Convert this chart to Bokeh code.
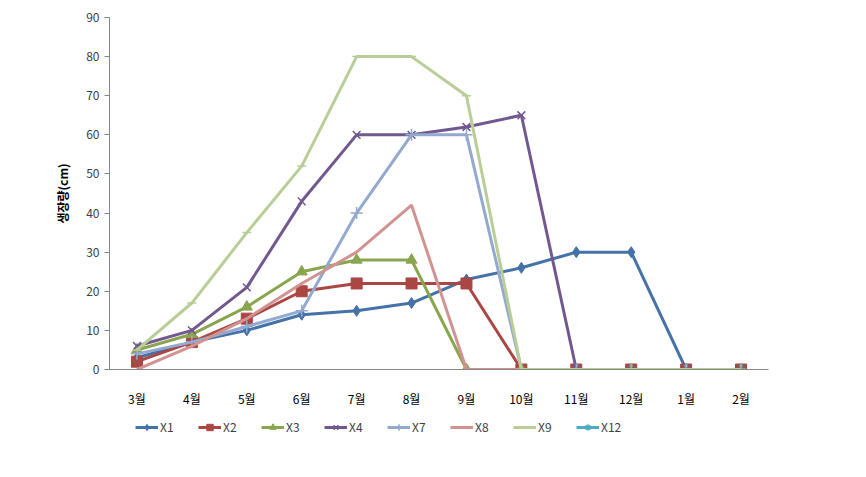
import numpy as np
from bokeh.plotting import figure
from bokeh.layouts import column
from bokeh.models import FactorRange, Range1d, Legend, LegendItem, ColumnDataSource
from bokeh.embed import file_html
from bokeh.resources import INLINE

months = ["3월", "4월", "5월", "6월", "7월", "8월", "9월", "10월", "11월", "12월", "1월", "2월"]
nan = float("nan")
x1 = [3, 7, 10, 14, 15, 17, 23, 26, 30, 30, 0, 0]
x2 = [2, 7, 13, 20, 22, 22, 22, 0, 0, 0, 0, 0]
x3 = [5, 9, 16, 25, 28, 28, 0, 0, 0, 0, 0, 0]
x4 = [6, 10, 21, 43, 60, 60, 62, 65, 0, 0, 0, 0]
x7 = [4, 7, 11, 15, 40, 60, 60, 0, 0, 0, 0, 0]
x8 = [0, 6, 13, 22, 30, 42, 0, 0, 0, 0, 0, 0]
x9 = [5, 17, 35, 52, 80, 80, 70, 0, 0, 0, 0, 0]
x12 = [nan] * 12
series_names = ["X1", "X2", "X3", "X4", "X7", "X8", "X9", "X12"]
series_values = [x1, x2, x3, x4, x7, x8, x9, x12]
y_ticks = [0, 10, 20, 30, 40, 50, 60, 70, 80, 90]

colors = ["#4572A7", "#AA4643", "#89A54E", "#71588F", "#93A9CF", "#D19392", "#B9CD96", "#4BACC6"]
markers = ["diamond", "square", "triangle", "x", "cross", None, "dash", "asterisk"]
msizes = [11, 11, 11, 11, 12, 0, 9, 11]

FONT = "Noto Sans CJK KR"

p = figure(width=866, height=410, output_backend="svg", toolbar_location=None,
           x_range=FactorRange(*months, range_padding=0), y_range=Range1d(0, 90),
           min_border_left=109, min_border_right=98, min_border_top=17, min_border_bottom=41)
p.outline_line_color = None
p.xgrid.visible = False
p.ygrid.visible = False

p.yaxis.ticker = y_ticks
p.yaxis.axis_line_color = "#868686"
p.yaxis.major_tick_line_color = "#868686"
p.yaxis.major_tick_out = 5
p.yaxis.major_tick_in = 0
p.yaxis.minor_tick_line_color = None
p.yaxis.major_label_text_font = FONT
p.yaxis.major_label_text_font_size = "12px"
p.yaxis.major_label_text_color = "#404040"
p.yaxis.major_label_standoff = 5
p.yaxis.axis_label = "생장량(cm)"
p.yaxis.axis_label_text_font = FONT
p.yaxis.axis_label_text_font_style = "bold"
p.yaxis.axis_label_text_font_size = "12px"
p.yaxis.axis_label_text_color = "#000000"
p.yaxis.axis_label_standoff = 12

p.xaxis.axis_line_color = "#868686"
p.xaxis.major_tick_line_color = None
p.xaxis.minor_tick_line_color = None
p.xaxis.major_label_text_font = FONT
p.xaxis.major_label_text_font_size = "12px"
p.xaxis.major_label_text_color = "#000000"
p.xaxis.major_label_standoff = 14

# legend-only figure underneath (its glyphs lie outside its visible range)
lf = figure(width=866, height=67, output_backend="svg", toolbar_location=None,
            x_range=FactorRange(*months, range_padding=0), y_range=Range1d(500, 501),
            min_border_left=0, min_border_right=0, min_border_top=0, min_border_bottom=0)
lf.axis.visible = False
lf.grid.visible = False
lf.outline_line_color = None

items = []
for name, vals, c, m, s in zip(series_names, series_values, colors, markers, msizes):
    src = ColumnDataSource(dict(x=months, y=vals))
    p.line("x", "y", source=src, line_color=c, line_width=3)
    rs = [lf.line("x", "y", source=src, line_color=c, line_width=3)]
    if m is not None:
        if m in ("x", "cross", "dash", "asterisk"):
            kw = dict(marker=m, size=s, line_color=c, line_width=1.5)
        else:
            kw = dict(marker=m, size=s, fill_color=c, line_color=c)
        p.scatter("x", "y", source=src, **kw)
        lkw = dict(kw)
        lkw["size"] = min(s, 9)
        rs.append(lf.scatter("x", "y", source=src, **lkw))
    items.append(LegendItem(label=name, renderers=rs))

legend = Legend(items=items, orientation="horizontal", location=(26, 42),
                glyph_width=23, glyph_height=16, label_standoff=2, label_width=36,
                spacing=2, padding=5, border_line_color=None, background_fill_alpha=0,
                label_text_font=FONT, label_text_font_size="12px", label_text_color="#404040")
lf.add_layout(legend, "center")

layout = column(p, lf, spacing=0)
open("out.html", "w").write(file_html(layout, INLINE))
